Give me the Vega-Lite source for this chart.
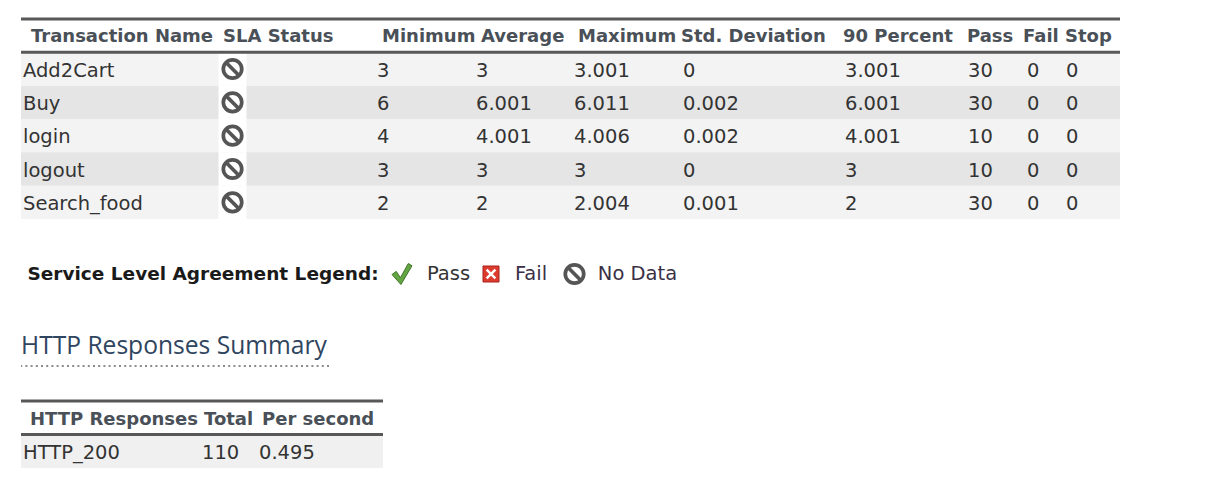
{
  "$schema": "https://vega.github.io/schema/vega-lite/v6.json",
  "background": "white",
  "padding": {"left": 19, "top": 17, "right": 5, "bottom": 5},
  "config": {"view": {"stroke": null}, "text": {"font": "DejaVu Sans"}, "concat": {"spacing": 0}},
  "datasets": {
    "transactions": [
      {"name": "Add2Cart", "sla": "No Data", "min": 3, "avg": 3, "max": 3.001, "std": 0, "p90": 3.001, "pass": 30, "fail": 0, "stop": 0},
      {"name": "Buy", "sla": "No Data", "min": 6, "avg": 6.001, "max": 6.011, "std": 0.002, "p90": 6.001, "pass": 30, "fail": 0, "stop": 0},
      {"name": "login", "sla": "No Data", "min": 4, "avg": 4.001, "max": 4.006, "std": 0.002, "p90": 4.001, "pass": 10, "fail": 0, "stop": 0},
      {"name": "logout", "sla": "No Data", "min": 3, "avg": 3, "max": 3, "std": 0, "p90": 3, "pass": 10, "fail": 0, "stop": 0},
      {"name": "Search_food", "sla": "No Data", "min": 2, "avg": 2, "max": 2.004, "std": 0.001, "p90": 2, "pass": 30, "fail": 0, "stop": 0}
    ],
    "sla_legend": [{"status": "Pass"}, {"status": "Fail"}, {"status": "No Data"}],
    "http": [{"code": "HTTP_200", "total": 110, "per_second": 0.495}]
  },
  "spacing": 0,
  "vconcat": [
    {
      "data": {"name": "transactions"},
      "bounds": "flush",
      "spacing": 0,
      "hconcat": [
        {"width": 195, "height": 200, "layer": [
          {"mark": {"type": "rect"}, "encoding": {"y": {"field": "name", "type": "nominal", "scale": {"type": "band", "domain": ["hdr", "Add2Cart", "Buy", "login", "logout", "Search_food"], "paddingInner": 0, "paddingOuter": 0}, "axis": null}, "color": {"field": "name", "type": "nominal", "scale": {"domain": ["Add2Cart", "Buy", "login", "logout", "Search_food"], "range": ["#f3f3f3", "#e5e5e5", "#f3f3f3", "#e5e5e5", "#f3f3f3"]}, "legend": null}}},
          {"data": {"values": [{}]}, "mark": {"type": "rule", "color": "#585858", "strokeWidth": 3}, "encoding": {"y": {"datum": "hdr", "type": "nominal", "bandPosition": 0, "axis": null}}},
          {"data": {"values": [{}]}, "mark": {"type": "rule", "color": "#585858", "strokeWidth": 3}, "encoding": {"y": {"datum": "Add2Cart", "type": "nominal", "bandPosition": 0, "axis": null}}},
          {"data": {"values": [{}]}, "mark": {"type": "text", "text": "Transaction Name", "align": "left", "dx": 10, "dy": 1.5, "fontWeight": "bold", "fontSize": 18, "color": "#4a5057"}, "encoding": {"x": {"datum": "Transaction Name", "type": "nominal", "bandPosition": 0, "scale": {"type": "band", "paddingInner": 0, "paddingOuter": 0}, "axis": null}, "y": {"datum": "hdr", "type": "nominal", "axis": null}}},
          {"mark": {"type": "text", "align": "left", "dx": 2, "dy": 1.5, "fontSize": 19.5, "color": "#333333"}, "encoding": {"x": {"datum": "Transaction Name", "type": "nominal", "bandPosition": 0, "scale": {"type": "band", "paddingInner": 0, "paddingOuter": 0}, "axis": null}, "y": {"field": "name", "type": "nominal", "axis": null}, "text": {"field": "name", "type": "nominal"}}}
        ]},
        {"width": 159, "height": 200, "layer": [
          {"mark": {"type": "rect"}, "encoding": {"y": {"field": "name", "type": "nominal", "scale": {"type": "band", "domain": ["hdr", "Add2Cart", "Buy", "login", "logout", "Search_food"], "paddingInner": 0, "paddingOuter": 0}, "axis": null}, "color": {"field": "name", "type": "nominal", "scale": {"domain": ["Add2Cart", "Buy", "login", "logout", "Search_food"], "range": ["#f3f3f3", "#e5e5e5", "#f3f3f3", "#e5e5e5", "#f3f3f3"]}, "legend": null}}},
          {"mark": {"type": "point", "shape": "M-0.84,-1L0.84,-1L0.84,1L-0.84,1Z", "size": 1111, "filled": true, "color": "#ffffff", "opacity": 1, "strokeWidth": 0}, "encoding": {"x": {"datum": "SLA Status", "type": "nominal", "bandPosition": 0.104, "scale": {"type": "band", "paddingInner": 0, "paddingOuter": 0}, "axis": null}, "y": {"field": "name", "type": "nominal", "axis": null}}},
          {"mark": {"type": "point", "filled": false, "size": 340, "strokeWidth": 3.7, "opacity": 1}, "encoding": {"x": {"datum": "SLA Status", "type": "nominal", "bandPosition": 0.104, "axis": null}, "y": {"field": "name", "type": "nominal", "axis": null}, "shape": {"field": "sla", "type": "nominal", "scale": {"domain": ["Pass", "Fail", "No Data"], "range": ["M-0.95,0.05L-0.55,-0.25L-0.15,0.35L0.6,-1L0.95,-0.78L-0.1,1Z", "M-1,-1L1,-1L1,1L-1,1Z", "M-1,0A1,1 0 1 1 1,0A1,1 0 1 1 -1,0ZM-0.7,-0.7L0.7,0.7"]}, "legend": null}, "stroke": {"field": "sla", "type": "nominal", "scale": {"domain": ["Pass", "Fail", "No Data"], "range": ["#5e9e3e", "#d9302c", "#555555"]}, "legend": null}}},
          {"data": {"values": [{}]}, "mark": {"type": "rule", "color": "#585858", "strokeWidth": 3}, "encoding": {"y": {"datum": "hdr", "type": "nominal", "bandPosition": 0, "axis": null}}},
          {"data": {"values": [{}]}, "mark": {"type": "rule", "color": "#585858", "strokeWidth": 3}, "encoding": {"y": {"datum": "Add2Cart", "type": "nominal", "bandPosition": 0, "axis": null}}},
          {"data": {"values": [{}]}, "mark": {"type": "text", "text": "SLA Status", "align": "left", "dx": 7, "dy": 1.5, "fontWeight": "bold", "fontSize": 18, "color": "#4a5057"}, "encoding": {"x": {"datum": "SLA Status", "type": "nominal", "bandPosition": 0, "axis": null}, "y": {"datum": "hdr", "type": "nominal", "axis": null}}}
        ]},
        {"width": 99, "height": 200, "layer": [
          {"mark": {"type": "rect"}, "encoding": {"y": {"field": "name", "type": "nominal", "scale": {"type": "band", "domain": ["hdr", "Add2Cart", "Buy", "login", "logout", "Search_food"], "paddingInner": 0, "paddingOuter": 0}, "axis": null}, "color": {"field": "name", "type": "nominal", "scale": {"domain": ["Add2Cart", "Buy", "login", "logout", "Search_food"], "range": ["#f3f3f3", "#e5e5e5", "#f3f3f3", "#e5e5e5", "#f3f3f3"]}, "legend": null}}},
          {"data": {"values": [{}]}, "mark": {"type": "rule", "color": "#585858", "strokeWidth": 3}, "encoding": {"y": {"datum": "hdr", "type": "nominal", "bandPosition": 0, "axis": null}}},
          {"data": {"values": [{}]}, "mark": {"type": "rule", "color": "#585858", "strokeWidth": 3}, "encoding": {"y": {"datum": "Add2Cart", "type": "nominal", "bandPosition": 0, "axis": null}}},
          {"data": {"values": [{}]}, "mark": {"type": "text", "text": "Minimum", "align": "left", "dx": 7, "dy": 1.5, "fontWeight": "bold", "fontSize": 18, "color": "#4a5057"}, "encoding": {"x": {"datum": "Minimum", "type": "nominal", "bandPosition": 0, "scale": {"type": "band", "paddingInner": 0, "paddingOuter": 0}, "axis": null}, "y": {"datum": "hdr", "type": "nominal", "axis": null}}},
          {"mark": {"type": "text", "align": "left", "dx": 2, "dy": 1.5, "fontSize": 19.5, "color": "#333333"}, "encoding": {"x": {"datum": "Minimum", "type": "nominal", "bandPosition": 0, "axis": null}, "y": {"field": "name", "type": "nominal", "axis": null}, "text": {"field": "min", "type": "nominal"}}}
        ]},
        {"width": 97, "height": 200, "layer": [
          {"mark": {"type": "rect"}, "encoding": {"y": {"field": "name", "type": "nominal", "scale": {"type": "band", "domain": ["hdr", "Add2Cart", "Buy", "login", "logout", "Search_food"], "paddingInner": 0, "paddingOuter": 0}, "axis": null}, "color": {"field": "name", "type": "nominal", "scale": {"domain": ["Add2Cart", "Buy", "login", "logout", "Search_food"], "range": ["#f3f3f3", "#e5e5e5", "#f3f3f3", "#e5e5e5", "#f3f3f3"]}, "legend": null}}},
          {"data": {"values": [{}]}, "mark": {"type": "rule", "color": "#585858", "strokeWidth": 3}, "encoding": {"y": {"datum": "hdr", "type": "nominal", "bandPosition": 0, "axis": null}}},
          {"data": {"values": [{}]}, "mark": {"type": "rule", "color": "#585858", "strokeWidth": 3}, "encoding": {"y": {"datum": "Add2Cart", "type": "nominal", "bandPosition": 0, "axis": null}}},
          {"data": {"values": [{}]}, "mark": {"type": "text", "text": "Average", "align": "left", "dx": 7, "dy": 1.5, "fontWeight": "bold", "fontSize": 18, "color": "#4a5057"}, "encoding": {"x": {"datum": "Average", "type": "nominal", "bandPosition": 0, "scale": {"type": "band", "paddingInner": 0, "paddingOuter": 0}, "axis": null}, "y": {"datum": "hdr", "type": "nominal", "axis": null}}},
          {"mark": {"type": "text", "align": "left", "dx": 2, "dy": 1.5, "fontSize": 19.5, "color": "#333333"}, "encoding": {"x": {"datum": "Average", "type": "nominal", "bandPosition": 0, "axis": null}, "y": {"field": "name", "type": "nominal", "axis": null}, "text": {"field": "avg", "type": "nominal"}}}
        ]},
        {"width": 109, "height": 200, "layer": [
          {"mark": {"type": "rect"}, "encoding": {"y": {"field": "name", "type": "nominal", "scale": {"type": "band", "domain": ["hdr", "Add2Cart", "Buy", "login", "logout", "Search_food"], "paddingInner": 0, "paddingOuter": 0}, "axis": null}, "color": {"field": "name", "type": "nominal", "scale": {"domain": ["Add2Cart", "Buy", "login", "logout", "Search_food"], "range": ["#f3f3f3", "#e5e5e5", "#f3f3f3", "#e5e5e5", "#f3f3f3"]}, "legend": null}}},
          {"data": {"values": [{}]}, "mark": {"type": "rule", "color": "#585858", "strokeWidth": 3}, "encoding": {"y": {"datum": "hdr", "type": "nominal", "bandPosition": 0, "axis": null}}},
          {"data": {"values": [{}]}, "mark": {"type": "rule", "color": "#585858", "strokeWidth": 3}, "encoding": {"y": {"datum": "Add2Cart", "type": "nominal", "bandPosition": 0, "axis": null}}},
          {"data": {"values": [{}]}, "mark": {"type": "text", "text": "Maximum", "align": "left", "dx": 7, "dy": 1.5, "fontWeight": "bold", "fontSize": 18, "color": "#4a5057"}, "encoding": {"x": {"datum": "Maximum", "type": "nominal", "bandPosition": 0, "scale": {"type": "band", "paddingInner": 0, "paddingOuter": 0}, "axis": null}, "y": {"datum": "hdr", "type": "nominal", "axis": null}}},
          {"mark": {"type": "text", "align": "left", "dx": 3, "dy": 1.5, "fontSize": 19.5, "color": "#333333"}, "encoding": {"x": {"datum": "Maximum", "type": "nominal", "bandPosition": 0, "axis": null}, "y": {"field": "name", "type": "nominal", "axis": null}, "text": {"field": "max", "type": "nominal"}}}
        ]},
        {"width": 163, "height": 200, "layer": [
          {"mark": {"type": "rect"}, "encoding": {"y": {"field": "name", "type": "nominal", "scale": {"type": "band", "domain": ["hdr", "Add2Cart", "Buy", "login", "logout", "Search_food"], "paddingInner": 0, "paddingOuter": 0}, "axis": null}, "color": {"field": "name", "type": "nominal", "scale": {"domain": ["Add2Cart", "Buy", "login", "logout", "Search_food"], "range": ["#f3f3f3", "#e5e5e5", "#f3f3f3", "#e5e5e5", "#f3f3f3"]}, "legend": null}}},
          {"data": {"values": [{}]}, "mark": {"type": "rule", "color": "#585858", "strokeWidth": 3}, "encoding": {"y": {"datum": "hdr", "type": "nominal", "bandPosition": 0, "axis": null}}},
          {"data": {"values": [{}]}, "mark": {"type": "rule", "color": "#585858", "strokeWidth": 3}, "encoding": {"y": {"datum": "Add2Cart", "type": "nominal", "bandPosition": 0, "axis": null}}},
          {"data": {"values": [{}]}, "mark": {"type": "text", "text": "Std. Deviation", "align": "left", "dx": 1, "dy": 1.5, "fontWeight": "bold", "fontSize": 18, "color": "#4a5057"}, "encoding": {"x": {"datum": "Std. Deviation", "type": "nominal", "bandPosition": 0, "scale": {"type": "band", "paddingInner": 0, "paddingOuter": 0}, "axis": null}, "y": {"datum": "hdr", "type": "nominal", "axis": null}}},
          {"mark": {"type": "text", "align": "left", "dx": 3, "dy": 1.5, "fontSize": 19.5, "color": "#333333"}, "encoding": {"x": {"datum": "Std. Deviation", "type": "nominal", "bandPosition": 0, "axis": null}, "y": {"field": "name", "type": "nominal", "axis": null}, "text": {"field": "std", "type": "nominal"}}}
        ]},
        {"width": 123, "height": 200, "layer": [
          {"mark": {"type": "rect"}, "encoding": {"y": {"field": "name", "type": "nominal", "scale": {"type": "band", "domain": ["hdr", "Add2Cart", "Buy", "login", "logout", "Search_food"], "paddingInner": 0, "paddingOuter": 0}, "axis": null}, "color": {"field": "name", "type": "nominal", "scale": {"domain": ["Add2Cart", "Buy", "login", "logout", "Search_food"], "range": ["#f3f3f3", "#e5e5e5", "#f3f3f3", "#e5e5e5", "#f3f3f3"]}, "legend": null}}},
          {"data": {"values": [{}]}, "mark": {"type": "rule", "color": "#585858", "strokeWidth": 3}, "encoding": {"y": {"datum": "hdr", "type": "nominal", "bandPosition": 0, "axis": null}}},
          {"data": {"values": [{}]}, "mark": {"type": "rule", "color": "#585858", "strokeWidth": 3}, "encoding": {"y": {"datum": "Add2Cart", "type": "nominal", "bandPosition": 0, "axis": null}}},
          {"data": {"values": [{}]}, "mark": {"type": "text", "text": "90 Percent", "align": "left", "dx": 0, "dy": 1.5, "fontWeight": "bold", "fontSize": 18, "color": "#4a5057"}, "encoding": {"x": {"datum": "90 Percent", "type": "nominal", "bandPosition": 0, "scale": {"type": "band", "paddingInner": 0, "paddingOuter": 0}, "axis": null}, "y": {"datum": "hdr", "type": "nominal", "axis": null}}},
          {"mark": {"type": "text", "align": "left", "dx": 2, "dy": 1.5, "fontSize": 19.5, "color": "#333333"}, "encoding": {"x": {"datum": "90 Percent", "type": "nominal", "bandPosition": 0, "axis": null}, "y": {"field": "name", "type": "nominal", "axis": null}, "text": {"field": "p90", "type": "nominal"}}}
        ]},
        {"width": 57, "height": 200, "layer": [
          {"mark": {"type": "rect"}, "encoding": {"y": {"field": "name", "type": "nominal", "scale": {"type": "band", "domain": ["hdr", "Add2Cart", "Buy", "login", "logout", "Search_food"], "paddingInner": 0, "paddingOuter": 0}, "axis": null}, "color": {"field": "name", "type": "nominal", "scale": {"domain": ["Add2Cart", "Buy", "login", "logout", "Search_food"], "range": ["#f3f3f3", "#e5e5e5", "#f3f3f3", "#e5e5e5", "#f3f3f3"]}, "legend": null}}},
          {"data": {"values": [{}]}, "mark": {"type": "rule", "color": "#585858", "strokeWidth": 3}, "encoding": {"y": {"datum": "hdr", "type": "nominal", "bandPosition": 0, "axis": null}}},
          {"data": {"values": [{}]}, "mark": {"type": "rule", "color": "#585858", "strokeWidth": 3}, "encoding": {"y": {"datum": "Add2Cart", "type": "nominal", "bandPosition": 0, "axis": null}}},
          {"data": {"values": [{}]}, "mark": {"type": "text", "text": "Pass", "align": "left", "dx": 1, "dy": 1.5, "fontWeight": "bold", "fontSize": 18, "color": "#4a5057"}, "encoding": {"x": {"datum": "Pass", "type": "nominal", "bandPosition": 0, "scale": {"type": "band", "paddingInner": 0, "paddingOuter": 0}, "axis": null}, "y": {"datum": "hdr", "type": "nominal", "axis": null}}},
          {"mark": {"type": "text", "align": "left", "dx": 2, "dy": 1.5, "fontSize": 19.5, "color": "#333333"}, "encoding": {"x": {"datum": "Pass", "type": "nominal", "bandPosition": 0, "axis": null}, "y": {"field": "name", "type": "nominal", "axis": null}, "text": {"field": "pass", "type": "nominal"}}}
        ]},
        {"width": 39, "height": 200, "layer": [
          {"mark": {"type": "rect"}, "encoding": {"y": {"field": "name", "type": "nominal", "scale": {"type": "band", "domain": ["hdr", "Add2Cart", "Buy", "login", "logout", "Search_food"], "paddingInner": 0, "paddingOuter": 0}, "axis": null}, "color": {"field": "name", "type": "nominal", "scale": {"domain": ["Add2Cart", "Buy", "login", "logout", "Search_food"], "range": ["#f3f3f3", "#e5e5e5", "#f3f3f3", "#e5e5e5", "#f3f3f3"]}, "legend": null}}},
          {"data": {"values": [{}]}, "mark": {"type": "rule", "color": "#585858", "strokeWidth": 3}, "encoding": {"y": {"datum": "hdr", "type": "nominal", "bandPosition": 0, "axis": null}}},
          {"data": {"values": [{}]}, "mark": {"type": "rule", "color": "#585858", "strokeWidth": 3}, "encoding": {"y": {"datum": "Add2Cart", "type": "nominal", "bandPosition": 0, "axis": null}}},
          {"data": {"values": [{}]}, "mark": {"type": "text", "text": "Fail", "align": "left", "dx": 0, "dy": 1.5, "fontWeight": "bold", "fontSize": 18, "color": "#4a5057"}, "encoding": {"x": {"datum": "Fail", "type": "nominal", "bandPosition": 0, "scale": {"type": "band", "paddingInner": 0, "paddingOuter": 0}, "axis": null}, "y": {"datum": "hdr", "type": "nominal", "axis": null}}},
          {"mark": {"type": "text", "align": "left", "dx": 4, "dy": 1.5, "fontSize": 19.5, "color": "#333333"}, "encoding": {"x": {"datum": "Fail", "type": "nominal", "bandPosition": 0, "axis": null}, "y": {"field": "name", "type": "nominal", "axis": null}, "text": {"field": "fail", "type": "nominal"}}}
        ]},
        {"width": 58, "height": 200, "layer": [
          {"mark": {"type": "rect"}, "encoding": {"y": {"field": "name", "type": "nominal", "scale": {"type": "band", "domain": ["hdr", "Add2Cart", "Buy", "login", "logout", "Search_food"], "paddingInner": 0, "paddingOuter": 0}, "axis": null}, "color": {"field": "name", "type": "nominal", "scale": {"domain": ["Add2Cart", "Buy", "login", "logout", "Search_food"], "range": ["#f3f3f3", "#e5e5e5", "#f3f3f3", "#e5e5e5", "#f3f3f3"]}, "legend": null}}},
          {"data": {"values": [{}]}, "mark": {"type": "rule", "color": "#585858", "strokeWidth": 3}, "encoding": {"y": {"datum": "hdr", "type": "nominal", "bandPosition": 0, "axis": null}}},
          {"data": {"values": [{}]}, "mark": {"type": "rule", "color": "#585858", "strokeWidth": 3}, "encoding": {"y": {"datum": "Add2Cart", "type": "nominal", "bandPosition": 0, "axis": null}}},
          {"data": {"values": [{}]}, "mark": {"type": "text", "text": "Stop", "align": "left", "dx": 3, "dy": 1.5, "fontWeight": "bold", "fontSize": 18, "color": "#4a5057"}, "encoding": {"x": {"datum": "Stop", "type": "nominal", "bandPosition": 0, "scale": {"type": "band", "paddingInner": 0, "paddingOuter": 0}, "axis": null}, "y": {"datum": "hdr", "type": "nominal", "axis": null}}},
          {"mark": {"type": "text", "align": "left", "dx": 4, "dy": 1.5, "fontSize": 19.5, "color": "#333333"}, "encoding": {"x": {"datum": "Stop", "type": "nominal", "bandPosition": 0, "axis": null}, "y": {"field": "name", "type": "nominal", "axis": null}, "text": {"field": "stop", "type": "nominal"}}}
        ]}
      ]
    },
    {
      "bounds": "flush",
      "spacing": 0,
      "hconcat": [
        {"data": {"values": [{"label": "Service Level Agreement Legend:"}]}, "width": 364, "height": 108, "mark": {"type": "text", "fontWeight": "bold", "fontSize": 18.5, "color": "#1a1a1a"}, "encoding": {"text": {"field": "label", "type": "nominal"}}},
        {"data": {"name": "sla_legend"}, "transform": [{"filter": "datum.status === 'Pass'"}], "width": 34, "height": 108, "mark": {"type": "point", "shape": "M-0.95,0.05L-0.55,-0.25L-0.15,0.35L0.6,-1L0.95,-0.78L-0.1,1Z", "size": 441, "filled": true, "color": "#62a542", "stroke": "#3f7326", "strokeWidth": 1, "opacity": 1}, "encoding": {}},
        {"data": {"name": "sla_legend"}, "transform": [{"filter": "datum.status === 'Pass'"}], "width": 59, "height": 108, "mark": {"type": "text", "fontSize": 19.5, "color": "#333333"}, "encoding": {"text": {"field": "status", "type": "nominal"}}},
        {"data": {"name": "sla_legend"}, "transform": [{"filter": "datum.status === 'Fail'"}], "width": 26, "height": 108, "layer": [
          {"mark": {"type": "point", "shape": "square", "size": 256, "filled": true, "color": "#dd3b2f", "stroke": "#a8231a", "strokeWidth": 1, "opacity": 1}, "encoding": {}},
          {"mark": {"type": "point", "shape": "M-0.55,-0.55L0.55,0.55M0.55,-0.55L-0.55,0.55", "size": 256, "filled": false, "color": "#ffffff", "strokeWidth": 2.5, "opacity": 1}, "encoding": {}}
        ]},
        {"data": {"name": "sla_legend"}, "transform": [{"filter": "datum.status === 'Fail'"}], "width": 54, "height": 108, "mark": {"type": "text", "fontSize": 19.5, "color": "#3a3046"}, "encoding": {"text": {"field": "status", "type": "nominal"}}},
        {"data": {"name": "sla_legend"}, "transform": [{"filter": "datum.status === 'No Data'"}], "width": 33, "height": 108, "mark": {"type": "point", "shape": "M-1,0A1,1 0 1 1 1,0A1,1 0 1 1 -1,0ZM-0.7,-0.7L0.7,0.7", "size": 340, "filled": false, "color": "#555555", "strokeWidth": 3.7, "opacity": 1}, "encoding": {}},
        {"data": {"name": "sla_legend"}, "transform": [{"filter": "datum.status === 'No Data'"}], "width": 93, "height": 108, "mark": {"type": "text", "fontSize": 19.5, "color": "#3a3046"}, "encoding": {"text": {"field": "status", "type": "nominal"}}}
      ]
    },
    {
      "spacing": 32,
      "vconcat": [
        {"width": 308, "height": 38, "layer": [
          {"data": {"values": [{"title": "HTTP Responses Summary"}]}, "mark": {"type": "text", "align": "left", "dx": 0, "font": "Open Sans", "fontSize": 24.6, "color": "#2f4560"}, "encoding": {"x": {"datum": "title", "type": "nominal", "bandPosition": 0, "scale": {"type": "band", "paddingInner": 0, "paddingOuter": 0}, "axis": null}, "text": {"field": "title", "type": "nominal"}}},
          {"data": {"values": [{}]}, "mark": {"type": "rule", "color": "#8c8c8c", "strokeWidth": 2, "strokeDash": [2, 3.2]}, "encoding": {"y": {"datum": 0, "type": "quantitative", "scale": {"domain": [0, 1]}, "axis": null}}}
        ]},
        {
          "data": {"name": "http"},
          "bounds": "flush",
          "spacing": 0,
          "hconcat": [
            {"width": 179, "height": 67, "layer": [
              {"mark": {"type": "rect", "color": "#f0f0f0"}, "encoding": {"y": {"field": "code", "type": "nominal", "scale": {"type": "band", "domain": ["hdr", "HTTP_200"], "paddingInner": 0, "paddingOuter": 0}, "axis": null}}},
              {"data": {"values": [{}]}, "mark": {"type": "rule", "color": "#585858", "strokeWidth": 3}, "encoding": {"y": {"datum": "hdr", "type": "nominal", "bandPosition": 0, "axis": null}}},
              {"data": {"values": [{}]}, "mark": {"type": "rule", "color": "#585858", "strokeWidth": 3}, "encoding": {"y": {"datum": "HTTP_200", "type": "nominal", "bandPosition": 0, "axis": null}}},
              {"data": {"values": [{}]}, "mark": {"type": "text", "text": "HTTP Responses", "align": "left", "dx": 9, "dy": 2, "fontWeight": "bold", "fontSize": 18, "color": "#4a5057"}, "encoding": {"x": {"datum": "HTTP Responses", "type": "nominal", "bandPosition": 0, "scale": {"type": "band", "paddingInner": 0, "paddingOuter": 0}, "axis": null}, "y": {"datum": "hdr", "type": "nominal", "axis": null}}},
              {"mark": {"type": "text", "align": "left", "dx": 2, "dy": 1.5, "fontSize": 19.5, "color": "#333333"}, "encoding": {"x": {"datum": "HTTP Responses", "type": "nominal", "bandPosition": 0, "axis": null}, "y": {"field": "code", "type": "nominal", "axis": null}, "text": {"field": "code", "type": "nominal"}}}
            ]},
            {"width": 50, "height": 67, "layer": [
              {"mark": {"type": "rect", "color": "#f0f0f0"}, "encoding": {"y": {"field": "code", "type": "nominal", "scale": {"type": "band", "domain": ["hdr", "HTTP_200"], "paddingInner": 0, "paddingOuter": 0}, "axis": null}}},
              {"data": {"values": [{}]}, "mark": {"type": "rule", "color": "#585858", "strokeWidth": 3}, "encoding": {"y": {"datum": "hdr", "type": "nominal", "bandPosition": 0, "axis": null}}},
              {"data": {"values": [{}]}, "mark": {"type": "rule", "color": "#585858", "strokeWidth": 3}, "encoding": {"y": {"datum": "HTTP_200", "type": "nominal", "bandPosition": 0, "axis": null}}},
              {"data": {"values": [{}]}, "mark": {"type": "text", "text": "Total", "align": "left", "dx": 4, "dy": 2, "fontWeight": "bold", "fontSize": 18, "color": "#4a5057"}, "encoding": {"x": {"datum": "Total", "type": "nominal", "bandPosition": 0, "scale": {"type": "band", "paddingInner": 0, "paddingOuter": 0}, "axis": null}, "y": {"datum": "hdr", "type": "nominal", "axis": null}}},
              {"mark": {"type": "text", "align": "left", "dx": 2, "dy": 1.5, "fontSize": 19.5, "color": "#333333"}, "encoding": {"x": {"datum": "Total", "type": "nominal", "bandPosition": 0, "axis": null}, "y": {"field": "code", "type": "nominal", "axis": null}, "text": {"field": "total", "type": "nominal"}}}
            ]},
            {"width": 133, "height": 67, "layer": [
              {"mark": {"type": "rect", "color": "#f0f0f0"}, "encoding": {"y": {"field": "code", "type": "nominal", "scale": {"type": "band", "domain": ["hdr", "HTTP_200"], "paddingInner": 0, "paddingOuter": 0}, "axis": null}}},
              {"data": {"values": [{}]}, "mark": {"type": "rule", "color": "#585858", "strokeWidth": 3}, "encoding": {"y": {"datum": "hdr", "type": "nominal", "bandPosition": 0, "axis": null}}},
              {"data": {"values": [{}]}, "mark": {"type": "rule", "color": "#585858", "strokeWidth": 3}, "encoding": {"y": {"datum": "HTTP_200", "type": "nominal", "bandPosition": 0, "axis": null}}},
              {"data": {"values": [{}]}, "mark": {"type": "text", "text": "Per second", "align": "left", "dx": 12, "dy": 2, "fontWeight": "bold", "fontSize": 18, "color": "#4a5057"}, "encoding": {"x": {"datum": "Per second", "type": "nominal", "bandPosition": 0, "scale": {"type": "band", "paddingInner": 0, "paddingOuter": 0}, "axis": null}, "y": {"datum": "hdr", "type": "nominal", "axis": null}}},
              {"mark": {"type": "text", "align": "left", "dx": 9, "dy": 1.5, "fontSize": 19.5, "color": "#333333"}, "encoding": {"x": {"datum": "Per second", "type": "nominal", "bandPosition": 0, "axis": null}, "y": {"field": "code", "type": "nominal", "axis": null}, "text": {"field": "per_second", "type": "nominal"}}}
            ]}
          ]
        }
      ]
    }
  ]
}
